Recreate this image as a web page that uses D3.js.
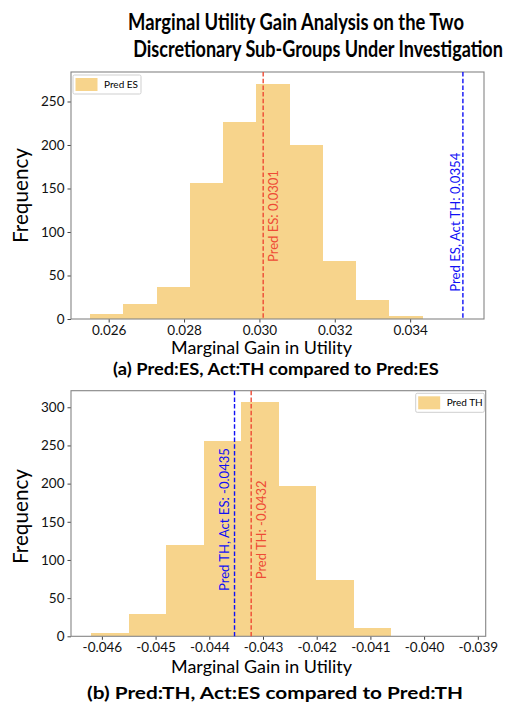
<!DOCTYPE html>
<html>
<head>
<meta charset="utf-8">
<script src="https://cdn.jsdelivr.net/npm/d3@7"></script>
<style>
  body { margin: 0; background: #fff; }
  svg text { font-family: Lato, "Open Sans", sans-serif; fill: #000; }
</style>
</head>
<body>
<svg id="chart" width="519" height="705"></svg>
<script>
// histogram (a): Pred ES
var edgesA = [0.02551, 0.02639, 0.02727, 0.02816, 0.02904, 0.02992, 0.03080, 0.03168, 0.03257, 0.03345, 0.03433];
var countsA = [6, 17, 37, 156, 226, 270, 200, 67, 22, 3];
var ticksXA = [0.026, 0.028, 0.030, 0.032, 0.034];
var ticksYA = [0, 50, 100, 150, 200, 250];
var linesA = [
    { value: 0.0301, label: 'Pred ES: 0.0301', kind: 'pred' },
    { value: 0.0354, label: 'Pred ES, Act TH: 0.0354', kind: 'act' }
];

// histogram (b): Pred TH
var edgesB = [-0.04620, -0.04550, -0.04480, -0.04410, -0.04341, -0.04271, -0.04201, -0.04131, -0.04061, -0.03991, -0.03921];
var countsB = [4, 29, 120, 256, 307, 197, 74, 11, 1, 1];
var ticksXB = [-0.046, -0.045, -0.044, -0.043, -0.042, -0.041, -0.040, -0.039];
var ticksYB = [0, 50, 100, 150, 200, 250, 300];
var linesB = [
    { value: -0.04353, label: 'Pred TH, Act ES: -0.0435', kind: 'act' },
    { value: -0.04322, label: 'Pred TH: -0.0432', kind: 'pred' }
];

var svg = d3.select('#chart');
var barColor = '#f7d48c';
var lineColors = { pred: '#ee4b35', act: '#1010f5' };

// text placed at (x,y); if width is given it is squeezed sideways to that length
function addText(x, y, str, size, width, opts)
{
    opts = opts || {};
    var t = svg.append('text')
        .attr('x', 0).attr('y', 0)
        .attr('font-size', size)
        .attr('text-anchor', opts.anchor || 'middle')
        .attr('font-weight', opts.bold ? 'bold' : 'normal')
        .text(str);
    if (opts.color) t.style('fill', opts.color);

    var tr = 'translate(' + x + ',' + y + ')';
    if (opts.rotate) tr += ' rotate(-90)';
    if (width)
    {
        var s = width / t.node().getComputedTextLength();
        tr += ' scale(' + s.toFixed(4) + ',1)';
    }
    t.attr('transform', tr);
    return t;
}

function drawHist(cfg)
{
    var x = d3.scaleLinear().domain(cfg.xDomain).range([cfg.left, cfg.right]);
    var y = d3.scaleLinear().domain(cfg.yDomain).range([cfg.bottom, cfg.top]);
    var g = svg.append('g');

    var bins = cfg.counts.map(function(c, i)
    {
        return { x0: cfg.edges[i], x1: cfg.edges[i + 1], n: c };
    });

    g.selectAll('rect.bar').data(bins).enter().append('rect')
        .attr('class', 'bar')
        .attr('x', function(d) { return x(d.x0); })
        .attr('width', function(d) { return x(d.x1) - x(d.x0); })
        .attr('y', function(d) { return y(d.n); })
        .attr('height', function(d) { return y(0) - y(d.n); })
        .attr('fill', barColor)
        .attr('shape-rendering', 'crispEdges');

    // axes
    var xAxis = d3.axisBottom(x).tickValues(cfg.ticksX).tickSize(3.5).tickPadding(2.5)
        .tickFormat(function(d) { return d3.format('.3f')(d).replace('−', '-'); });
    var yAxis = d3.axisLeft(y).tickValues(cfg.ticksY).tickSize(3.5).tickPadding(3);

    var gx = g.append('g').attr('transform', 'translate(0,' + cfg.bottom + ')').call(xAxis);
    var gy = g.append('g').attr('transform', 'translate(' + cfg.left + ',0)').call(yAxis);
    [gx, gy].forEach(function(a)
    {
        a.select('.domain').remove();
        a.selectAll('line').attr('stroke', '#444');
        a.selectAll('text').attr('font-size', 13.5).attr('font-family', 'Lato, sans-serif').style('fill', '#111');
    });

    // frame
    g.append('rect')
        .attr('x', cfg.left).attr('y', cfg.top)
        .attr('width', cfg.right - cfg.left).attr('height', cfg.bottom - cfg.top)
        .attr('fill', 'none').attr('stroke', '#858585').attr('stroke-width', 1.1);

    // dashed reference lines + labels
    cfg.lines.forEach(function(l, i)
    {
        var lx = x(l.value);
        g.append('line')
            .attr('x1', lx).attr('x2', lx)
            .attr('y1', cfg.top).attr('y2', cfg.bottom)
            .attr('stroke', lineColors[l.kind]).attr('stroke-width', 1.4)
            .attr('stroke-dasharray', '4.5,2.2');
        var lab = cfg.labels[i];
        addText(lx + lab.dx, lab.y, l.label, 14, lab.len,
            { anchor: 'start', rotate: true, color: lineColors[l.kind] });
    });

    // legend
    var lg = cfg.legend;
    g.append('rect')
        .attr('x', lg.x).attr('y', lg.y).attr('width', lg.w).attr('height', 19)
        .attr('rx', 1.5).attr('fill', '#fff').attr('stroke', '#cfcfcf');
    g.append('rect')
        .attr('x', lg.x + 2.5).attr('y', lg.y + 3).attr('width', 22).attr('height', 13)
        .attr('fill', barColor);
    addText(lg.x + 31, lg.y + 13, cfg.name, 10, null, { anchor: 'start' });

    // axis titles
    addText(cfg.left + 190.5, cfg.bottom + cfg.xLabelGap, 'Marginal Gain in Utility', 16.5, 181);
    addText(28, cfg.frequencyY, 'Frequency', 21.5, 95, { rotate: true });
}

// title
addText(296, 30, 'Marginal Utility Gain Analysis on the Two', 22.5, 336, { bold: true });
addText(318, 57, 'Discretionary Sub-Groups Under Investigation', 22.5, 370, { bold: true });

drawHist({
    name: 'Pred ES',
    edges: edgesA, counts: countsA, ticksX: ticksXA, ticksY: ticksYA, lines: linesA,
    xDomain: [0.0250, 0.03596], yDomain: [0, 283.9],
    left: 71, right: 484, top: 72, bottom: 319,
    labels: [{ dx: 14.5, y: 262, len: 92 }, { dx: -2.8, y: 291.7, len: 139 }],
    legend: { x: 73, y: 75, w: 68 },
    frequencyY: 195.5, xLabelGap: 35
});
addText(276, 374.5, '(a) Pred:ES, Act:TH compared to Pred:ES', 17.5, 326, { bold: true });

drawHist({
    name: 'Pred TH',
    edges: edgesB, counts: countsB, ticksX: ticksXB, ticksY: ticksYB, lines: linesB,
    xDomain: [-0.046575, -0.038853], yDomain: [0, 321.7],
    left: 71, right: 485.7, top: 390.7, bottom: 636.3,
    labels: [{ dx: -5.5, y: 591, len: 143 }, { dx: 14.5, y: 579.3, len: 99 }],
    legend: { x: 415.7, y: 393.3, w: 68.6 },
    frequencyY: 516.5, xLabelGap: 37
});
addText(275, 699, '(b) Pred:TH, Act:ES compared to Pred:TH', 17.5, 376, { bold: true });
</script>
</body>
</html>
